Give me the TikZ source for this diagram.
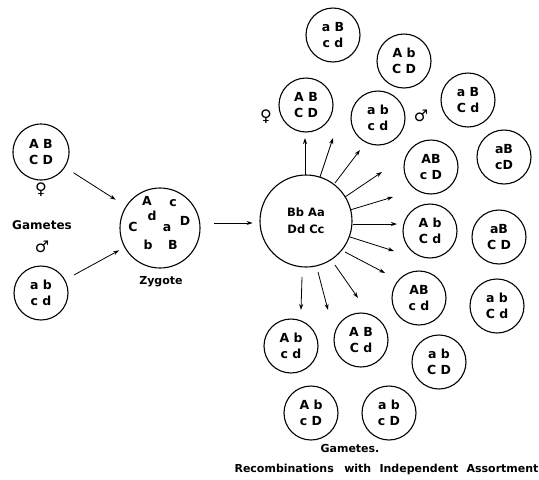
\documentclass[tikz,border=0pt]{standalone}
\usepackage{fontspec}
\setmainfont{DejaVu Sans}
\newfontfamily\symfont{DejaVu Sans}
\usetikzlibrary{arrows.meta}
\begin{document}
\begin{tikzpicture}[x=1pt,y=-1pt,
  gam/.style={circle,draw,line width=1.1pt,minimum size=#1,inner sep=0pt,align=center,
    font=\fontsize{12.5}{16.5}\selectfont\bfseries},
  gam/.default=54pt,
  arr/.style={-{Stealth[length=6pt,width=4pt]},line width=0.8pt},
  lbl/.style={font=\fontsize{11}{12}\selectfont\bfseries},
  sym/.style={font=\fontsize{16}{16}\selectfont\symfont\bfseries}]
\useasboundingbox (0,0) rectangle (539,480);
% left gametes
\node[gam=56pt] (gf) at (41,152) {A B\\C D};
\node[sym] (sf) at (41,190) {♀};
\node[lbl,font=\fontsize{12}{12}\selectfont\bfseries] (gl) at (42,225) {Gametes};
\node[sym] (sm) at (42,247) {♂};
\node[gam=54pt] (gm) at (41,293) {a b\\c d};
% zygote
\node[circle,draw,line width=1.1pt,minimum size=80pt] (zy) at (160,228) {};
\begin{scope}[every node/.style={font=\fontsize{12.5}{13}\selectfont\bfseries}]
\node (z1) at (147,201) {A};
\node (z2) at (173,203) {c};
\node (z3) at (152,216) {d};
\node (z4) at (133,227) {C};
\node (z5) at (167,228) {a};
\node (z6) at (185,221) {D};
\node (z7) at (148,245) {b};
\node (z8) at (173,245) {B};
\end{scope}
\node[lbl] (zl) at (161,282) {Zygote};
\draw[arr,shorten <=10pt,shorten >=12pt] (gf) -- (zy);
\draw[arr,shorten <=10pt,shorten >=6pt] (gm) -- (zy);
% center
\node[circle,draw,line width=1.1pt,minimum size=92pt,align=center,
  font=\fontsize{11.5}{17}\selectfont\bfseries] (ct) at (306,221) {Bb Aa\\Dd Cc};
\draw[arr] (zy.east) ++(13,-5) coordinate (zs) -- ++(39,0) coordinate (ze);
% right gametes
\node[gam] (r1) at (333,35) {a B\\c d};
\node[gam] (r2) at (404,61) {A b\\C D};
\node[gam] (r3) at (306,105) {A B\\C D};
\node[gam] (r4) at (378,118) {a b\\c d};
\node[gam] (r5) at (468,100) {a B\\C d};
\node[gam] (r6) at (431,167) {AB\\c D};
\node[gam] (r7) at (504,157) {aB\\cD};
\node[gam] (r8) at (430,231) {A b\\C d};
\node[gam] (r9) at (499,237) {aB\\C D};
\node[gam] (r10) at (419,298) {AB\\c d};
\node[gam] (r11) at (497,306) {a b\\C d};
\node[gam] (r12) at (291,346) {A b\\c d};
\node[gam] (r13) at (361,340) {A B\\C d};
\node[gam] (r14) at (439,362) {a b\\C D};
\node[gam] (r15) at (311,413) {A b\\c D};
\node[gam] (r16) at (389,413) {a b\\c D};
\node[sym] (s3) at (266,117) {♀};
\node[sym] (s4) at (421,116) {♂};
% arrows
\coordinate (s1) at (305,175); \coordinate (e1) at (305,138);
\coordinate (s2) at (320,177); \coordinate (e2) at (333,138);
\coordinate (s3a) at (335,183); \coordinate (e3) at (360,150);
\coordinate (s4a) at (345,197); \coordinate (e4) at (382,172);
\coordinate (s5) at (350,210); \coordinate (e5) at (393,197);
\coordinate (s6) at (353,224); \coordinate (e6) at (397,224);
\coordinate (s7) at (350,237); \coordinate (e7) at (394,251);
\coordinate (s8) at (345,252); \coordinate (e8) at (385,273);
\coordinate (s9) at (335,265); \coordinate (e9) at (358,298);
\coordinate (s10) at (318,272); \coordinate (e10) at (328,310);
\coordinate (s11) at (302,277); \coordinate (e11) at (301,310);
\foreach \i/\j in {s1/e1,s2/e2,s3a/e3,s4a/e4,s5/e5,s6/e6,s7/e7,s8/e8,s9/e9,s10/e10,s11/e11}
  \draw[arr] (\i) -- (\j);
\node[lbl] (gr) at (350,448) {Gametes.};
\node[lbl,anchor=west] (tt) at (231,469) {Recombinations\hspace{0.6em} with\hspace{0.4em} Independent\hspace{0.4em} Assortment};
\end{tikzpicture}
\end{document}
